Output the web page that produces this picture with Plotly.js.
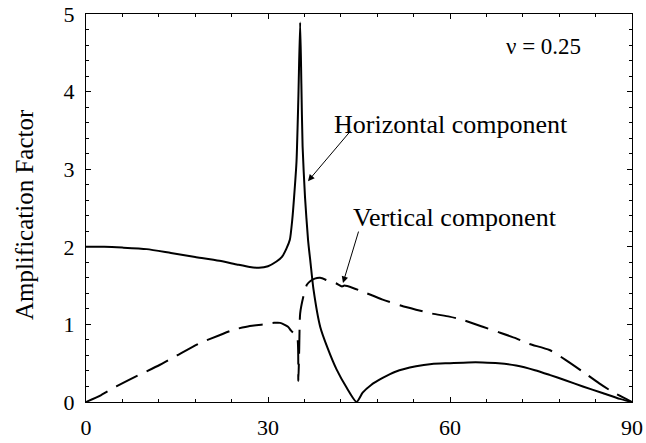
<!DOCTYPE html>
<html>
<head>
<meta charset="utf-8">
<script src="https://cdn.plot.ly/plotly-3.0.1.min.js"></script>
<style>html,body{margin:0;padding:0;background:#fff;}#chart{width:646px;height:443px;}</style>
</head>
<body>
<div id="chart"></div>
<script>
// Horizontal component (solid)
var horizAngle = [0, 3, 6, 10, 14, 18, 22, 25, 27, 28.5, 30, 31.4, 32.3, 33, 33.6, 34, 34.3, 34.7, 35.0, 35.3, 35.5, 35.7, 36.1, 36.6, 37.0, 37.5, 38.6, 39.8, 41.3, 43, 44.6, 45.6, 47, 48.9, 51, 54.4, 57, 60, 63, 65.4, 68, 70.9, 74, 76.4, 79, 81.9, 85, 88, 90];
var horizAmp = [2.0, 2.0, 1.99, 1.97, 1.92, 1.87, 1.82, 1.77, 1.74, 1.73, 1.75, 1.81, 1.87, 1.97, 2.09, 2.35, 2.64, 3.1, 3.9, 4.89, 4.1, 3.3, 2.64, 2.09, 1.8, 1.45, 0.97, 0.7, 0.42, 0.18, 0.0, 0.12, 0.22, 0.31, 0.39, 0.46, 0.49, 0.5, 0.51, 0.51, 0.5, 0.47, 0.41, 0.35, 0.28, 0.2, 0.12, 0.04, 0];
// Vertical component (dashed)
var vertAngle = [0, 2.5, 5, 8, 12.2, 15, 18.8, 22, 24.3, 27, 29.2, 31, 32, 33.3, 33.8, 34.3, 34.8, 35.0, 35.15, 35.3, 35.8, 36.4, 37.0, 37.7, 38.6, 40, 41.2, 42.2, 42.6, 44, 46, 48.9, 52, 54.4, 57, 59.9, 62, 65.4, 68, 70.9, 73, 76.4, 79.1, 81.9, 84.6, 87, 90];
var vertAmp = [0, 0.09, 0.2, 0.32, 0.48, 0.6, 0.76, 0.86, 0.93, 0.98, 1.0, 1.02, 1.02, 0.97, 0.92, 0.88, 0.85, 0.27, 0.7, 1.14, 1.35, 1.51, 1.56, 1.59, 1.6, 1.56, 1.53, 1.49, 1.5, 1.47, 1.41, 1.32, 1.24, 1.19, 1.14, 1.10, 1.06, 0.97, 0.9, 0.82, 0.75, 0.67, 0.54, 0.39, 0.24, 0.12, 0];
var xTicks = [0, 30, 60, 90];
var yTicks = [0, 1, 2, 3, 4, 5];
var labelNu = "ν = 0.25";
var labelHoriz = "Horizontal component";
var labelVert = "Vertical component";
var yTitle = "Amplification Factor";

var serif = "Liberation Serif, Times New Roman, serif";
var traces = [
  {x: horizAngle, y: horizAmp, mode: 'lines', line: {color: '#000', width: 2, shape: 'spline', smoothing: 0.6}, hoverinfo: 'skip'},
  {x: vertAngle, y: vertAmp, mode: 'lines', line: {color: '#000', width: 2, dash: '24px,10px', shape: 'spline', smoothing: 0.6}, hoverinfo: 'skip'}
];
var axisCommon = {
  showgrid: false, zeroline: false, showline: true, linecolor: '#000', linewidth: 1,
  mirror: 'ticks', ticks: 'inside', ticklen: 5, tickcolor: '#000', tickwidth: 1,
  tickfont: {family: serif, size: 22, color: '#000'}
};
var layout = {
  width: 646, height: 443,
  margin: {l: 86, r: 14, t: 13.5, b: 40.7},
  paper_bgcolor: '#fff', plot_bgcolor: '#fff',
  showlegend: false,
  xaxis: Object.assign({}, axisCommon, {
    range: [0, 90], tickvals: xTicks, ticktext: xTicks.map(String),
    minor: {dtick: 6, ticks: 'inside', ticklen: 3, tickcolor: '#000'},
    ticklabelstandoff: 6
  }),
  yaxis: Object.assign({}, axisCommon, {
    range: [0, 5], tickvals: yTicks, ticktext: yTicks.map(String),
    minor: {dtick: 0.2, ticks: 'inside', ticklen: 3, tickcolor: '#000'},
    ticklabelstandoff: 6
  }),
  annotations: [
    {x: 24, y: 215, text: yTitle, showarrow: false, textangle: -90,
     font: {family: serif, size: 25, color: '#000'}, xanchor: 'center', yanchor: 'middle'},
    {x: 504, y: 46, text: labelNu, showarrow: false,
     font: {family: serif, size: 23, color: '#000'}, xanchor: 'left', yanchor: 'middle'},
    {x: 332, y: 124, text: labelHoriz, showarrow: false,
     font: {family: serif, size: 26, color: '#000'}, xanchor: 'left', yanchor: 'middle'},
    {x: 351, y: 217, text: labelVert, showarrow: false,
     font: {family: serif, size: 26, color: '#000'}, xanchor: 'left', yanchor: 'middle'}
  ]
};
// convert pixel-placed annotations into paper coordinates
var L = 86, T = 13.5, W = 646 - 86 - 14, H = 443 - 13.5 - 40.7;
layout.annotations.forEach(function (a) {
  a.xref = 'paper'; a.yref = 'paper';
  a.x = (a.x - L) / W; a.y = 1 - (a.y - T) / H;
});
function arrow(x0, y0, x1, y1) {
  return {x: (x1 - L) / W, y: 1 - (y1 - T) / H, ax: (x0 - L) / W, ay: 1 - (y0 - T) / H,
    xref: 'paper', yref: 'paper', axref: 'paper', ayref: 'paper', text: '', showarrow: true,
    arrowhead: 2, arrowsize: 1.3, arrowwidth: 1, arrowcolor: '#000'};
}
layout.annotations.push(arrow(352, 129, 308, 181));
layout.annotations.push(arrow(359, 230, 343, 283));
Plotly.newPlot('chart', traces, layout, {staticPlot: true});
</script>
</body>
</html>
